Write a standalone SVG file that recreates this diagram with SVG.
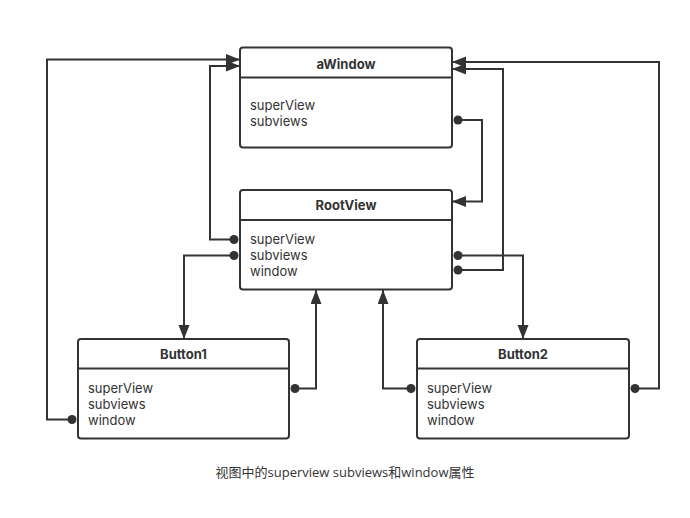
<svg xmlns="http://www.w3.org/2000/svg" width="690" height="518" viewBox="0 0 690 518">
<defs>
<style>
.box{fill:#fff;stroke:#333;stroke-width:2}
.sep{stroke:#333;stroke-width:2}
.title{font-family:Inter,"Open Sans",sans-serif;font-size:13px;font-weight:bold;fill:#333;text-anchor:middle}
.field{font-family:Inter,"Open Sans",sans-serif;font-size:13px;fill:#333}
.caption{font-family:"Open Sans","Noto Sans CJK SC",sans-serif;font-size:13px;fill:#333;text-anchor:middle}
.conn{fill:none;stroke:#333;stroke-width:2;marker-start:url(#dot);marker-end:url(#arrow)}
</style>
<marker id="arrow" markerUnits="userSpaceOnUse" markerWidth="15" markerHeight="12" refX="14" refY="5.5" orient="auto">
<path d="M0,0 L14,5.5 L0,11 z" fill="#333"/>
</marker>
<marker id="dot" markerUnits="userSpaceOnUse" markerWidth="10" markerHeight="10" refX="5" refY="5" orient="auto">
<circle cx="5" cy="5" r="4.5" fill="#333"/>
</marker>
</defs>
<rect width="690" height="518" fill="#fff"/>
<g id="connectors">
<path class="conn" d="M72,419.5 H47 V59.5 H240"/>
<path class="conn" d="M234,239.5 H210 V66 H240"/>
<path class="conn" d="M635,388.5 H659 V62 H452"/>
<path class="conn" d="M458,270 H503 V69 H452"/>
<path class="conn" d="M458,120 H482 V201.5 H452"/>
<path class="conn" d="M234,255.5 H184 V339"/>
<path class="conn" d="M458,255.5 H523 V339"/>
<path class="conn" d="M295,388.5 H316 V290"/>
<path class="conn" d="M411,388.5 H383 V290"/>
</g>
<g id="aWindow">
<rect class="box" x="240" y="47.5" width="212" height="100" rx="3"/>
<line class="sep" x1="240" y1="77.5" x2="452" y2="77.5"/>
<text class="title" x="346" y="68.5">aWindow</text>
<text class="field" x="250" y="110">superView</text>
<text class="field" x="250" y="126">subviews</text>
</g>
<g id="RootView">
<rect class="box" x="240" y="190" width="212" height="99.5" rx="3"/>
<line class="sep" x1="240" y1="220" x2="452" y2="220"/>
<text class="title" x="346" y="210">RootView</text>
<text class="field" x="250" y="244">superView</text>
<text class="field" x="250" y="260">subviews</text>
<text class="field" x="250" y="276">window</text>
</g>
<g id="Button1">
<rect class="box" x="78" y="339" width="211" height="99.5" rx="3"/>
<line class="sep" x1="78" y1="368.5" x2="289" y2="368.5"/>
<text class="title" x="183.5" y="359">Button1</text>
<text class="field" x="88" y="393">superView</text>
<text class="field" x="88" y="409">subviews</text>
<text class="field" x="88" y="425">window</text>
</g>
<g id="Button2">
<rect class="box" x="417" y="339" width="212" height="99.5" rx="3"/>
<line class="sep" x1="417" y1="368.5" x2="629" y2="368.5"/>
<text class="title" x="523" y="359">Button2</text>
<text class="field" x="427" y="393">superView</text>
<text class="field" x="427" y="409">subviews</text>
<text class="field" x="427" y="425">window</text>
</g>
<text class="caption" x="345" y="476.5">视图中的superview subviews和window属性</text>
</svg>
